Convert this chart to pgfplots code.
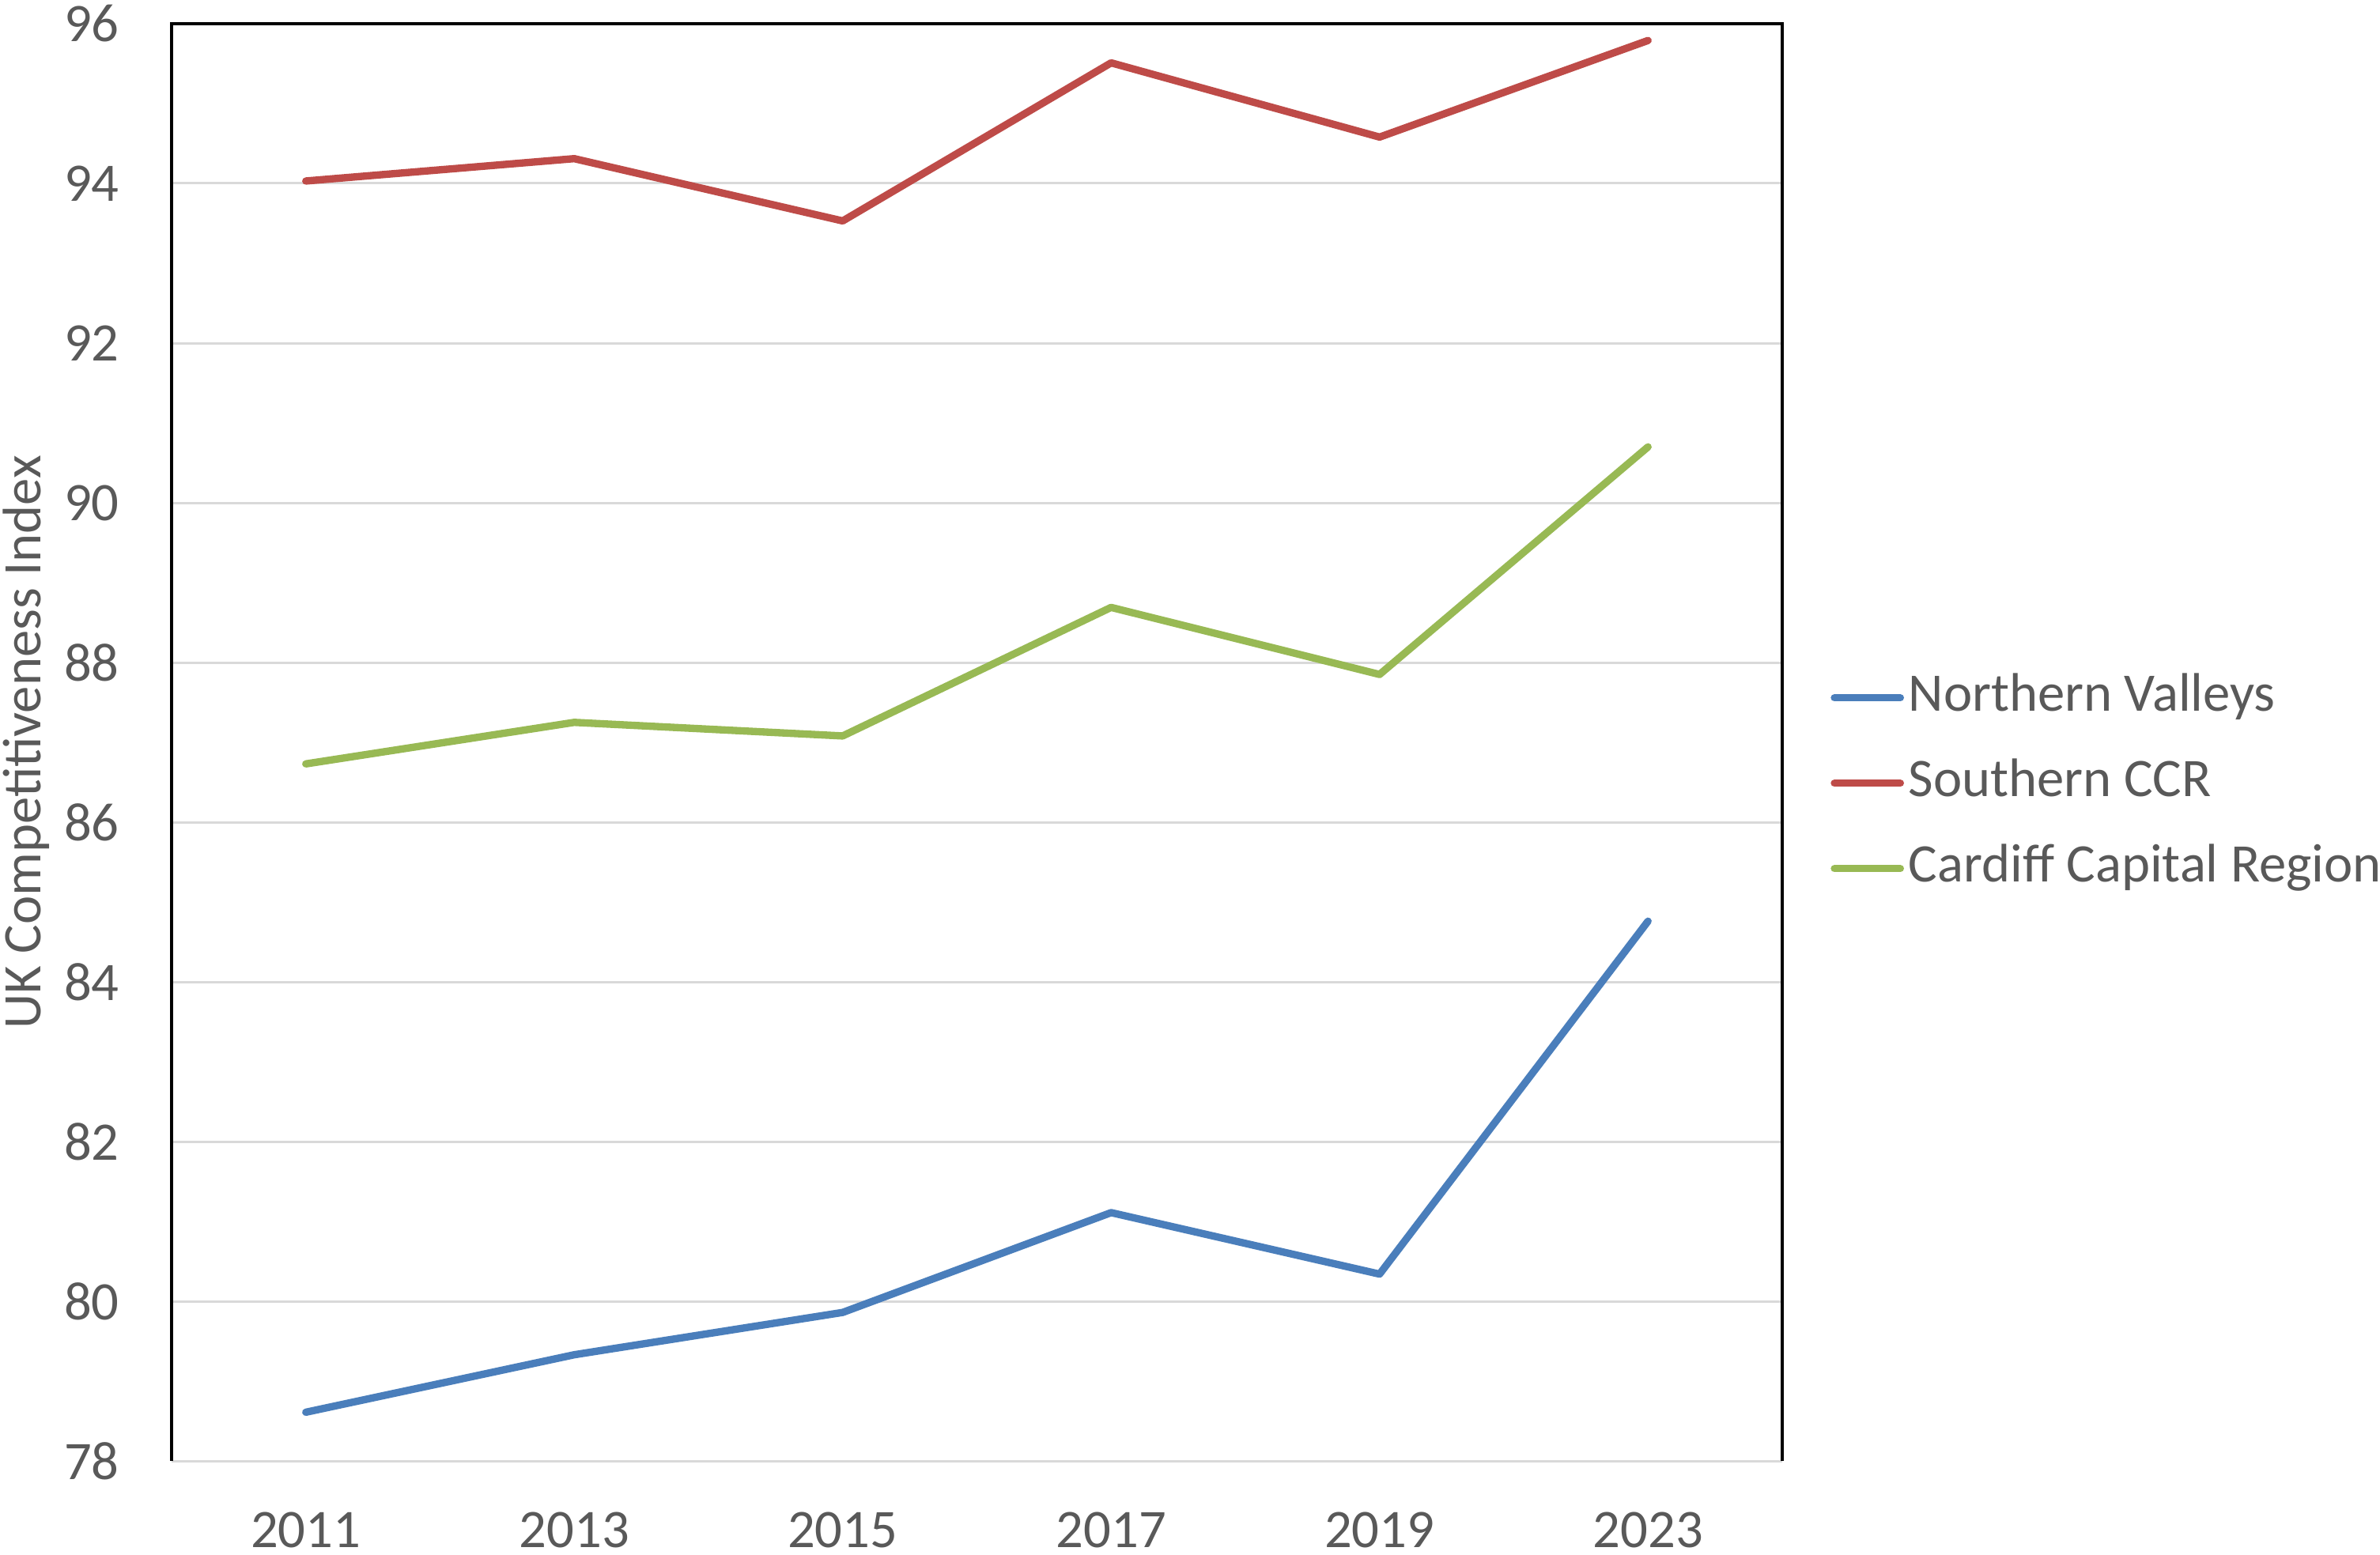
\documentclass[border=0pt]{standalone}
\usepackage{fontspec}
\setmainfont{Carlito}
\usepackage{pgfplots}
\pgfplotsset{compat=1.18}
\definecolor{nv}{HTML}{4A7EBB}
\definecolor{sc}{HTML}{BE4B48}
\definecolor{cc}{HTML}{98B954}
\definecolor{txt}{HTML}{595959}
\definecolor{grd}{HTML}{D9D9D9}
\newcommand{\fs}{\fontsize{10.3}{12.4}\selectfont}
\begin{document}
\begin{tikzpicture}
\begin{axis}[
  name=ax,
  at={(0,0)}, anchor=south west,
  width=305.55pt, height=272.7pt, scale only axis,
  xmin=-0.5, xmax=5.5, ymin=78, ymax=96,
  xtick={0,...,5}, xticklabels={2011,2013,2015,2017,2019,2023},
  ytick={78,80,...,96},
  major tick length=0pt,
  ymajorgrids, grid style={grd, line width=0.45pt},
  axis line style={draw=none},
  /pgf/number format/assume math mode=true,
  tick label style={font=\fs, text=txt},
  yticklabel style={anchor=east, inner sep=0pt, xshift=-9.75pt},
  xticklabel style={anchor=north, inner sep=0pt, yshift=-9.6pt, text depth=0pt},
  ylabel={UK Competitiveness Index},
  every axis y label/.style={at={(axis description cs:-0.0903,0.5)}, rotate=90, anchor=center, font=\fs, text=txt},
  legend style={at={(axis description cs:1,0.4747)}, anchor=west, xshift=9pt, yshift=-0.87pt,
    draw=none, fill=none, inner sep=0pt, row sep=7.2pt, column sep=0.85pt,
    font=\fs, text=txt, nodes={inner sep=0pt, text height=7pt, text depth=2pt}},
  legend cell align=left,
  legend image code/.code={\draw[#1,line cap=round] (0pt,0pt) -- (12.5pt,0pt);},
  every axis plot/.append style={line width=1.4pt, line join=round, line cap=round},
]
\addplot[nv] coordinates {(0,78.61) (1,79.33) (2,79.86) (3,81.11) (4,80.34) (5,84.76)};
\addlegendentry{Northern Valleys}
\addplot[sc] coordinates {(0,94.03) (1,94.31) (2,93.53) (3,95.51) (4,94.58) (5,95.79)};
\addlegendentry{Southern CCR}
\addplot[cc] coordinates {(0,86.73) (1,87.25) (2,87.08) (3,88.69) (4,87.85) (5,90.70)};
\addlegendentry{Cardiff Capital Region}
\end{axis}
\draw[black, line width=0.6pt] (ax.south west) -- (ax.north west) -- (ax.north east) -- (ax.south east);
\pgfresetboundingbox
\path[use as bounding box] (-32.55pt,-17.7pt) rectangle (418.95pt,277.2pt);
\end{tikzpicture}
\end{document}
